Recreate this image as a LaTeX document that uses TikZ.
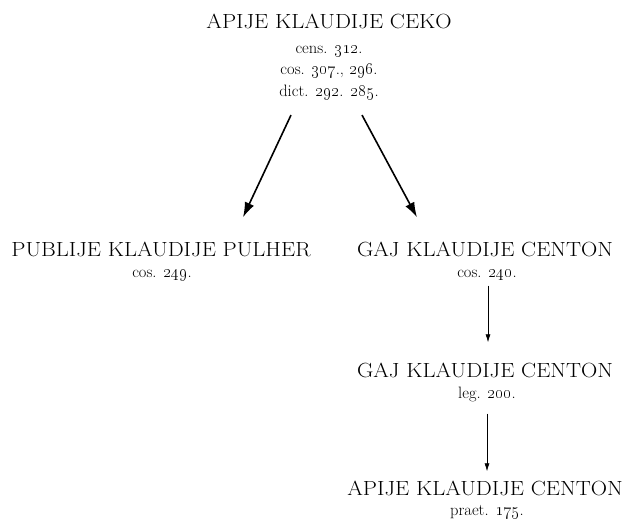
\documentclass[tikz,border=0pt]{standalone}
\usepackage{graphicx}
\usepackage{tikz}
\usetikzlibrary{arrows.meta}
\usetikzlibrary{calc}

\tikzset{
  persona/.style={inner sep=0pt, anchor=base, font=\fontsize{20.5}{23}\selectfont},
  office/.style={inner sep=0pt, anchor=base, align=center, font=\fontsize{16.5}{21.75}\selectfont},
  bigarrow/.style={line width=1.6pt, -{Latex[length=15pt,width=10pt]}},
  smallarrow/.style={line width=0.7pt, -{Latex[length=8pt,width=5pt]}}
}
\newcommand{\yr}[1]{\oldstylenums{#1}}
\newcommand{\who}[1]{\scalebox{1.1}[1]{#1}} % the names are set wide

\begin{document}
\begin{tikzpicture}[x=1pt,y=-1pt]
	%% frame of the page, same size as the scan
	\useasboundingbox (0,0) rectangle (628,525);

	%% the father
	\node[persona] (ceko) at (329,28) {\who{APIJE KLAUDIJE CEKO}};
	% base of a node with several lines is its last line
	\node[office] (cekooff) at (329,96.5)
	  {cens. \yr{312}.\\cos. \yr{307}., \yr{296}.\\dict. \yr{292}. \yr{285}.};

	%% his two sons
	\node[persona] (pulher) at (161,256) {\who{PUBLIJE KLAUDIJE PULHER}};
	\node[office] (pulheroff) at (162,277) {cos. \yr{249}.};

	\node[persona] (centonA) at (485,256) {\who{GAJ KLAUDIJE CENTON}};
	\node[office] (centonAoff) at (487,277) {cos. \yr{240}.};

	%% the line of Centon
	\node[persona] (centonB) at (485,377) {\who{GAJ KLAUDIJE CENTON}};
	\node[office] (centonBoff) at (487,398) {leg. \yr{200}.};

	\node[persona] (centonC) at (485,495) {\who{APIJE KLAUDIJE CENTON}};
	\node[office] (centonCoff) at (487,515) {praet. \yr{175}.};

	%% Arrows
	\draw[bigarrow] ($(cekooff.south)+(-38,15)$) -- ($(pulher.north)+(82,-24)$);
	\draw[bigarrow] ($(cekooff.south)+(33,15)$) -- ($(centonA.north)+(-68,-24)$);
	\draw[smallarrow] ($(centonAoff.south)+(1,5)$) -- ($(centonB.north)+(3,-20)$);
	\draw[smallarrow] ($(centonBoff.south)+(0,12)$) -- ($(centonC.north)+(2,-9)$);
\end{tikzpicture}
\end{document}
